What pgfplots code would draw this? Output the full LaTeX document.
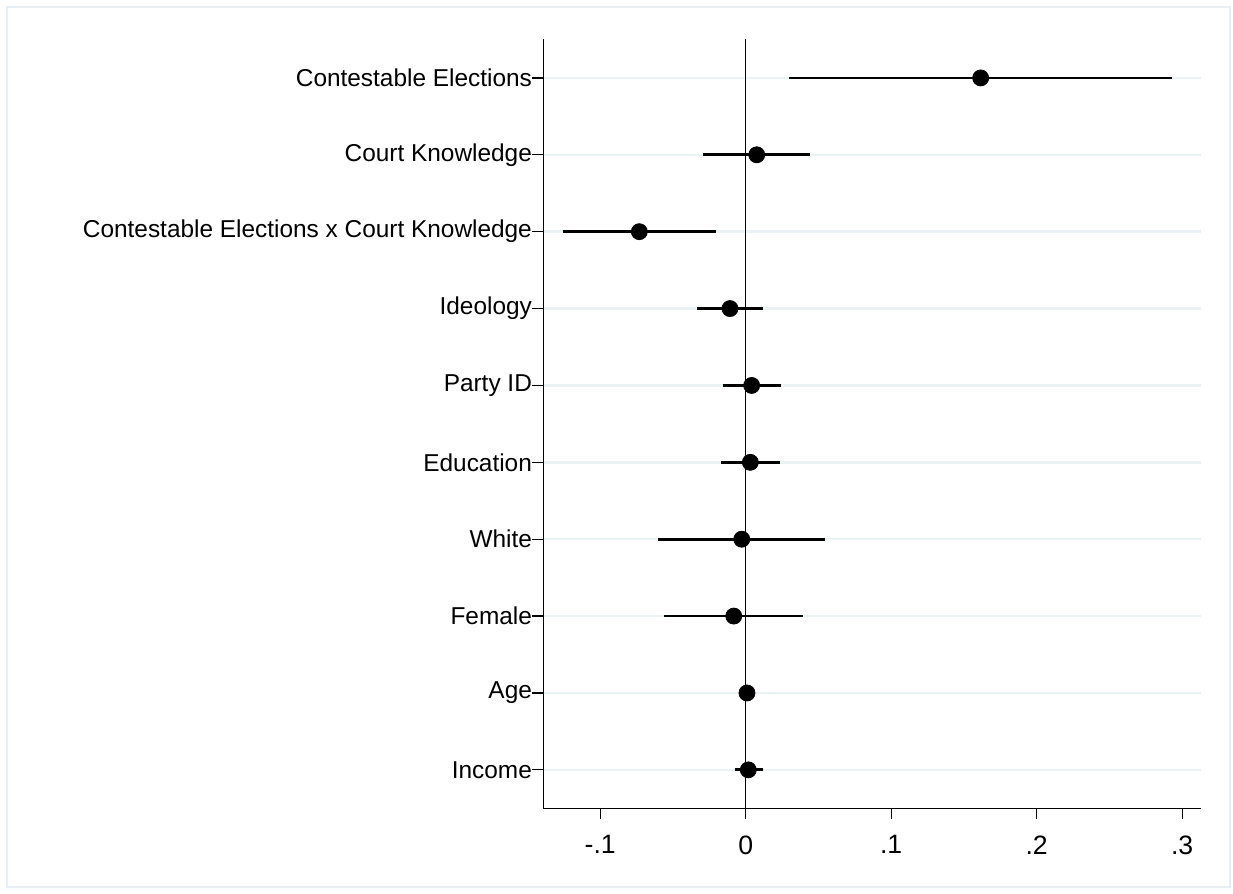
\documentclass[border=0pt]{standalone}
\usepackage{pgfplots}
\pgfplotsset{compat=1.18}
\usepackage{pgfplotstable}
\usepackage{fontspec}
\setmainfont{Liberation Sans}
\definecolor{gridc}{RGB}{234,242,243}
\definecolor{framec}{RGB}{232,238,243}
\pgfplotstableread{
row est lo hi
10 0.1615 0.0300 0.2928
9 0.0076 -0.0291 0.0440
8 -0.0731 -0.1254 -0.0204
7 -0.0108 -0.0333 0.0121
6 0.0041 -0.0154 0.0245
5 0.0032 -0.0172 0.0238
4 -0.0027 -0.0601 0.0545
3 -0.0082 -0.0559 0.0396
2 0.0009 -0.0002 0.0020
1 0.0018 -0.0074 0.0117
}\coefs
\begin{document}
\begin{tikzpicture}[x=1bp,y=1bp]
\path[use as bounding box] (-271.65,-42.85) rectangle (344.85,404.15);
\draw[framec, line width=1.2bp] (-268.15,-39.35) rectangle (343.35,400.65);
\begin{axis}[
  at={(0,0)}, anchor=south west,
  scale only axis, width=328.6bp, height=384.4bp,
  xmin=-0.1391, xmax=0.3126, ymin=0.5, ymax=10.5,
  axis x line*=bottom, axis y line*=left,
  axis line style={line width=0.7bp, black, -},
  xtick={-0.1,0,0.1,0.2,0.3}, xticklabels={-.1,0,.1,.2,.3},
  ytick={1,...,10},
  yticklabels={Income,Age,Female,White,Education,Party ID,Ideology,Contestable Elections x Court Knowledge,Court Knowledge,Contestable Elections},
  tick align=outside, major tick length=5.5bp,
  tick style={black, line width=0.6bp},
  ymajorgrids, grid style={gridc, line width=1.2bp},
  xticklabel style={font=\fontsize{13.3bp}{16bp}\selectfont, inner sep=0pt, yshift=-8bp},
  yticklabel style={font=\fontsize{12.2bp}{14bp}\selectfont, inner sep=0pt},
  clip=false,
]
\addplot[black, line width=0.55bp, forget plot] coordinates {(0,0.5) (0,10.5)};
\addplot[only marks, black, mark=*, mark size=4bp, mark options={fill=black, draw=black},
  error bars/.cd, x dir=both, x explicit, error mark=none,
  error bar style={line width=1.4bp, black}]
  table[x=est, y=row, x error plus expr=\thisrow{hi}-\thisrow{est}, x error minus expr=\thisrow{est}-\thisrow{lo}] {\coefs};
\end{axis}
\end{tikzpicture}
\end{document}
